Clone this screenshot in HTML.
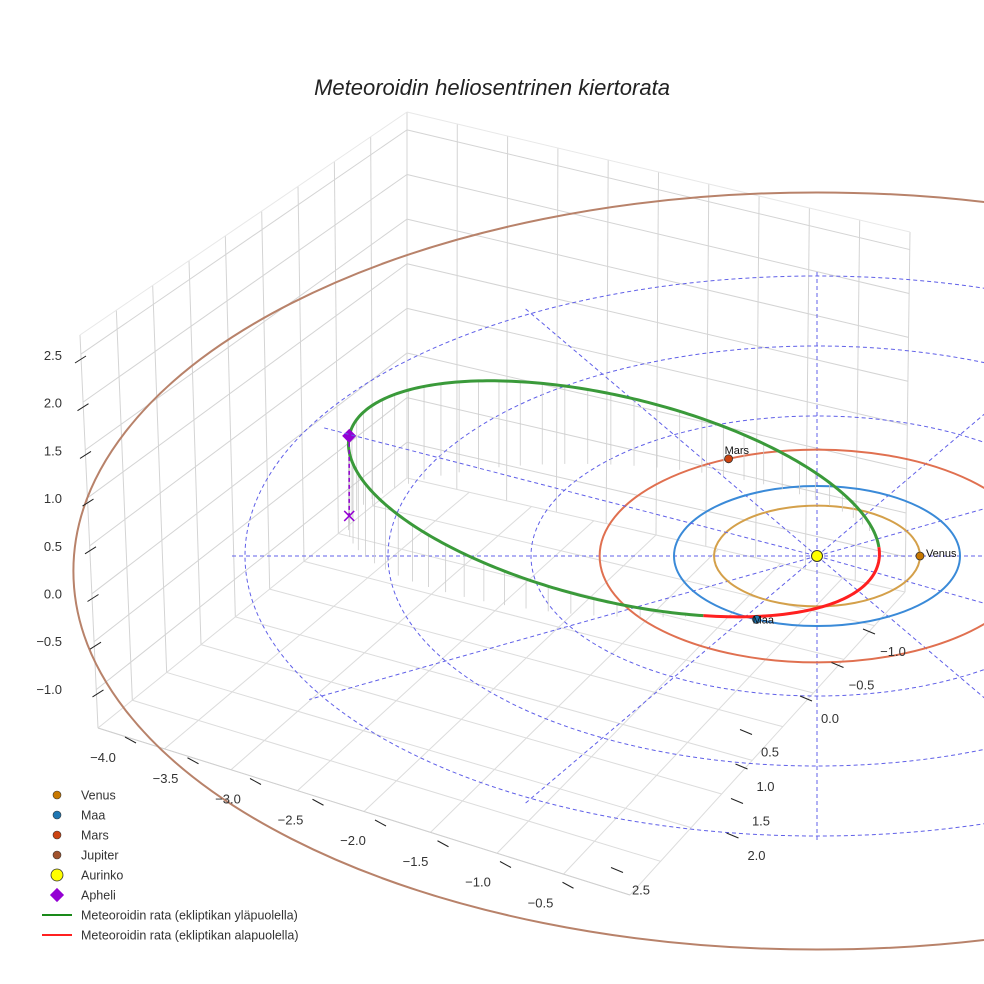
<!DOCTYPE html>
<html><head><meta charset="utf-8"><style>
body{margin:0;background:#fff}
svg{display:block;font-family:"Liberation Sans",sans-serif}
</style></head><body>
<svg id="chart" width="984" height="984" viewBox="0 0 984 984">
<rect width="984" height="984" fill="#fff"/>
<text x="492" y="95" text-anchor="middle" font-size="22" font-style="italic" fill="#222">Meteoroidin heliosentrinen kiertorata</text>
<g id="grid"></g>
<g id="plot"></g>
<g id="axes"></g>
<g id="legend"></g>
</svg>
<script>
const zTicks=[2.5,2.0,1.5,1.0,0.5,0.0,-0.5,-1.0];
const xTicks=[-4.0,-3.5,-3.0,-2.5,-2.0,-1.5,-1.0,-0.5];
const yTicks=[-1.0,-0.5,0.0,0.5,1.0,1.5,2.0,2.5];
const planetNames=["Venus","Maa","Mars","Jupiter"];
const planetRadii=[0.72,1.0,1.52,5.2];
const planetAngles=[0,115,-114,null];
const planetColors=["#d4a04a","#3a8ad8","#e07050","#b8826a"];
const planetMarker=["#c87800","#1f77b4","#cc4411","#a0522d"];
const ringRadii=[2,3,4];
const orbitA=[1.87], orbitB=[1.08], orbitCenter=[-1.42,-0.22], orbitDir=[-0.99,-0.13];
const orbitZAmp=[0.55], orbitZOff=[0.44], orbitZPhase=[0.5];

const NS="http://www.w3.org/2000/svg";
function mk(tag,attrs,parent){const e=document.createElementNS(NS,tag);for(const k in attrs)e.setAttribute(k,attrs[k]);parent.appendChild(e);return e;}
const SX=817,SY=556,KX=143,KY=70,KZ=95;
function px(X,Y,Z){return [SX+X*KX, SY+Y*KY-(Z||0)*KZ];}
const grid=document.getElementById('grid'),plot=document.getElementById('plot'),axes=document.getElementById('axes'),legend=document.getElementById('legend');

const A=[98,728],B=[407,478],C=[905,592],D=[630,895],At=[80,335],Bt=[407,112],Ct=[910,232];
function lerp(p,q,t){return [p[0]+(q[0]-p[0])*t,p[1]+(q[1]-p[1])*t];}
function line(p,q,col,w,parent,name){const l=mk('line',{x1:p[0],y1:p[1],x2:q[0],y2:q[1],stroke:col,'stroke-width':w},parent||grid);return l;}
const zf=z=>(z+1.4)/4.1;
for(let i=0;i<=9;i++){const t=i/9;line(lerp(A,B,t),lerp(At,Bt,t),'#d4d4d4',1);}
zTicks.forEach(z=>{const t=zf(z);line(lerp(A,At,t),lerp(B,Bt,t),'#d4d4d4',1);line(lerp(B,Bt,t),lerp(C,Ct,t),'#d4d4d4',1);});
for(let i=0;i<=10;i++){const t=i/10;line(lerp(B,C,t),lerp(Bt,Ct,t),'#d4d4d4',1);}
for(let i=0;i<=9;i++){const t=i/9;line(lerp(A,B,t),lerp(D,C,t),'#dcdcdc',1);}
for(let i=0;i<=8;i++){const t=i/8;line(lerp(A,D,t),lerp(B,C,t),'#dcdcdc',1);}
line(At,Bt,'#e8e8e8',1);line(Bt,Ct,'#e8e8e8',1);line(A,D,'#cfcfcf',1);

ringRadii.forEach(r=>{const e=mk('ellipse',{cx:SX,cy:SY,rx:r*KX,ry:r*KY,fill:'none',stroke:'#6060e8','stroke-width':1,'stroke-dasharray':'4,3'},plot);});
for(let a=0;a<360;a+=30){if(a===180+30)continue;const r=a*Math.PI/180;const p=px(4.1*Math.cos(r),4.1*Math.sin(r));const l=line([SX,SY],p,'#6060e8',1,plot,'ecliptic-radial');l.setAttribute('stroke-dasharray','4,3');}

planetRadii.forEach((r,i)=>{const big=r>3;const e=mk('ellipse',{cx:SX,cy:SY+(big?15:0),rx:r*KX,ry:r*KY*(big?1.04:1),fill:'none',stroke:planetColors[i],'stroke-width':2},plot);});

const pts=[];
const vv=[orbitDir[1],-orbitDir[0]];
const vdir=vv[1]>0?[-vv[0],-vv[1]]:vv;
for(let k=0;k<=360;k++){const t=k/360*2*Math.PI;
const X=orbitCenter[0]+orbitA[0]*Math.cos(t)*orbitDir[0]+orbitB[0]*Math.sin(t)*vdir[0];
const Y=orbitCenter[1]+orbitA[0]*Math.cos(t)*orbitDir[1]+orbitB[0]*Math.sin(t)*vdir[1];
const Z=orbitZAmp[0]*Math.cos(t-orbitZPhase[0])+orbitZOff[0];pts.push({X,Y,Z});}
pts.forEach((p,k)=>{if(k%5===0&&p.Z>0.02){const a=px(p.X,p.Y,p.Z),b=px(p.X,p.Y,0);line(a,b,'#cccccc',0.8,plot,'drop-line');}});
let seg=[],segs=[];
pts.forEach((p)=>{const above=p.Z>=0;if(seg.length&&seg.above!==above){seg.push(px(p.X,p.Y,p.Z));segs.push(seg);seg=[];}if(!seg.length)seg.above=above;seg.push(px(p.X,p.Y,p.Z));});
segs.push(seg);
segs.forEach(s=>{const path=mk('polyline',{points:s.map(q=>q.join(',')).join(' '),fill:'none',stroke:s.above?'#3a9a3a':'#ff2020','stroke-width':3},plot);});

const ap=pts[0],apS=px(ap.X,ap.Y,ap.Z),apF=[apS[0],apS[1]+80];
const dl=line(apS,apF,'#9400d3',1.5,plot,'aphelion-drop');dl.setAttribute('stroke-dasharray','4,3');
const dm=mk('rect',{x:apS[0]-5,y:apS[1]-5,width:10,height:10,fill:'#9400d3',transform:`rotate(45 ${apS[0]} ${apS[1]})`},plot);

line([apF[0]-5,apF[1]-5],[apF[0]+5,apF[1]+5],'#9400d3',1.5,plot,'aphelion-projection');
line([apF[0]-5,apF[1]+5],[apF[0]+5,apF[1]-5],'#9400d3',1.5,plot,'aphelion-projection');
const gl=line([apS[0]-25,apS[1]-8],[SX,SY],'#6060e8',1,plot,'aphelion-guide');gl.setAttribute('stroke-dasharray','4,3');

planetAngles.forEach((a,i)=>{if(a===null)return;const r=a*Math.PI/180;const p=px(planetRadii[i]*Math.cos(r),planetRadii[i]*Math.sin(r));
const c=mk('circle',{cx:p[0],cy:p[1],r:4,fill:planetMarker[i],stroke:'#333','stroke-width':0.8},plot);
const t=mk('text',{x:p[0]+(i===0?6:-4),y:p[1]+(i===0?1:(i===2?-5:4)),'font-size':11,fill:'#111'},plot);t.textContent=planetNames[i];});
const sun=mk('circle',{cx:SX,cy:SY,r:5.5,fill:'#ffff00',stroke:'#333','stroke-width':1},plot);

zTicks.forEach(z=>{const y=355+(2.5-z)*95.4;const t=mk('text',{x:62,y:y+5,'font-size':13,fill:'#333','text-anchor':'end'},axes);t.textContent=z.toFixed(1).replace('-','\u2212');
line([75+(2.5-z)*5,y+8],[86+(2.5-z)*5,y+1],'#222',1,axes,'z-tick');});
xTicks.forEach(x=>{const sx=103+(x+4)*125,sy=757+(x+4)*41.5;const t=mk('text',{x:sx,y:sy+5,'font-size':13,fill:'#333','text-anchor':'middle'},axes);t.textContent=x.toFixed(1).replace('-','\u2212');
line([sx+22,sy-20],[sx+33,sy-14],'#222',1,axes,'x-tick');});
yTicks.forEach(y=>{const sx=y<=0?830-y*63:770-(y-0.5)*9-(y>=2.5?111:0),sy=718+y*67-(y>0?(y-0.5)*-2:0);const t=mk('text',{x:sx,y:sy+5,'font-size':13,fill:'#333','text-anchor':'middle'},axes);t.textContent=y.toFixed(1).replace('-','\u2212');
line([sx-30,sy-22],[sx-18,sy-17],'#222',1,axes,'y-tick');});

const legItems=[["Venus","dot","#c87800"],["Maa","dot","#1f77b4"],["Mars","dot","#cc4411"],["Jupiter","dot","#a0522d"],["Aurinko","sun","#ffff00"],["Apheli","diamond","#9400d3"],["Meteoroidin rata (ekliptikan yläpuolella)","line","#1a8a1a"],["Meteoroidin rata (ekliptikan alapuolella)","line","#ff2020"]];
legItems.forEach((it,i)=>{const y=795+i*20;const g=mk('g',{},legend);
if(it[1]==='dot')mk('circle',{cx:57,cy:y,r:4,fill:it[2],stroke:'#333','stroke-width':0.6},g);
if(it[1]==='sun')mk('circle',{cx:57,cy:y,r:6,fill:it[2],stroke:'#333','stroke-width':0.8},g);
if(it[1]==='diamond')mk('rect',{x:52,y:y-5,width:10,height:10,fill:it[2],transform:`rotate(45 57 ${y})`},g);
if(it[1]==='line')mk('line',{x1:42,y1:y,x2:72,y2:y,stroke:it[2],'stroke-width':2},g);
const t=mk('text',{x:81,y:y+4.5,'font-size':12.5,fill:'#333'},g);t.textContent=it[0];});
</script>
</body></html>
